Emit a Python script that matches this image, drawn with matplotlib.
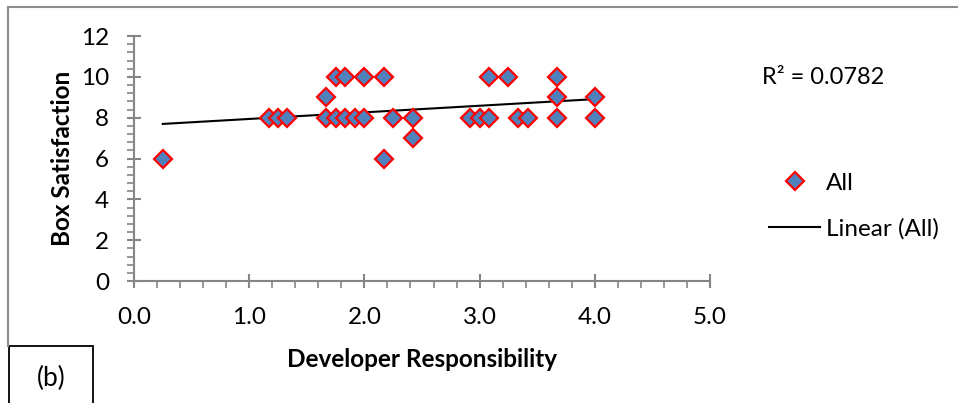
import numpy as np
import matplotlib
matplotlib.use("Agg")
import matplotlib.pyplot as plt
from matplotlib.lines import Line2D
from matplotlib.patches import Rectangle
from matplotlib.ticker import MultipleLocator, FormatStrFormatter

plt.rcParams['font.family'] = ['Lato', 'DejaVu Sans']

# Developer responsibility vs. box satisfaction scores
responsibility = [0.25,
                  1.17, 1.25, 1.33, 1.67, 1.75, 1.83, 1.92, 2.00, 2.25, 2.42,
                  2.92, 3.00, 3.08, 3.33, 3.42, 3.67, 4.00,
                  1.67, 3.67, 4.00,
                  1.75, 1.83, 2.00, 2.17, 3.08, 3.25, 3.67,
                  2.17, 2.42]
satisfaction = [6,
                8, 8, 8, 8, 8, 8, 8, 8, 8, 8,
                8, 8, 8, 8, 8, 8, 8,
                9, 9, 9,
                10, 10, 10, 10, 10, 10, 10,
                6, 7]
r_squared_label = "R² = 0.0782"

x = np.array(responsibility)
y = np.array(satisfaction)
slope, intercept = np.polyfit(x, y, 1)
x_fit = np.array([x.min(), x.max()])
y_fit = slope * x_fit + intercept

W, H = 958, 403
fig = plt.figure(figsize=(W / 100, H / 100), dpi=100)

def fx(px):
    return px / W

def fy(py):
    return 1 - py / H

ax = fig.add_axes([fx(134), fy(281), fx(710) - fx(134), fy(36) - fy(281)])

axis_grey = '#868686'
ax.plot(x, y, linestyle='none', marker='D', markersize=9.6,
        markerfacecolor='#4F81BD', markeredgecolor='#FF0000',
        markeredgewidth=1.6, label='All', zorder=3)
ax.plot(x_fit, y_fit, color='black', linewidth=1.5, label='Linear (All)', zorder=2)

ax.set_xlim(0, 5)
ax.set_ylim(0, 12)
ax.xaxis.set_major_locator(MultipleLocator(1))
ax.xaxis.set_minor_locator(MultipleLocator(0.2))
ax.yaxis.set_major_locator(MultipleLocator(2))
ax.yaxis.set_minor_locator(MultipleLocator(0.4))
ax.xaxis.set_major_formatter(FormatStrFormatter('%.1f'))

for s in ('top', 'right'):
    ax.spines[s].set_visible(False)
for s in ('left', 'bottom'):
    ax.spines[s].set_color(axis_grey)
    ax.spines[s].set_linewidth(1.5)

ax.tick_params(which='major', direction='inout', length=10, width=1.5,
               color=axis_grey, labelsize=17.5, labelcolor='black')
ax.tick_params(which='minor', direction='out', length=5, width=1.2,
               color=axis_grey)
ax.tick_params(axis='x', which='major', pad=14)
ax.tick_params(axis='y', which='major', pad=13)

ax.set_xlabel('Developer Responsibility', fontsize=17.5, fontweight='bold', labelpad=14)
ax.set_ylabel('Box Satisfaction', fontsize=17.5, fontweight='bold', labelpad=5)

fig.text(fx(762), fy(78), r_squared_label, fontsize=17, va='center', ha='left')

ax.legend(loc='center left', bbox_to_anchor=(fx(757), fy(206)),
          bbox_transform=fig.transFigure, frameon=False, fontsize=17.5,
          numpoints=1, handlelength=2.1, handletextpad=0.25,
          labelspacing=1.0, borderpad=0)

# outer chart frame (top and left edges) and the panel tag box
fig.add_artist(Line2D([fx(8), 1.0], [fy(7), fy(7)], color='#8C8C8C', lw=1.5,
                      transform=fig.transFigure))
fig.add_artist(Line2D([fx(8), fx(8)], [fy(7), fy(346)], color='#8C8C8C', lw=1.5,
                      transform=fig.transFigure))
fig.add_artist(Rectangle((fx(9), fy(410)), fx(93) - fx(9), fy(346) - fy(410),
                         transform=fig.transFigure, fill=False,
                         edgecolor='black', linewidth=1.3))
fig.text(fx(51), fy(378), '(b)', fontsize=19, ha='center', va='center')

fig.savefig('out.png', dpi=100, facecolor='white')
